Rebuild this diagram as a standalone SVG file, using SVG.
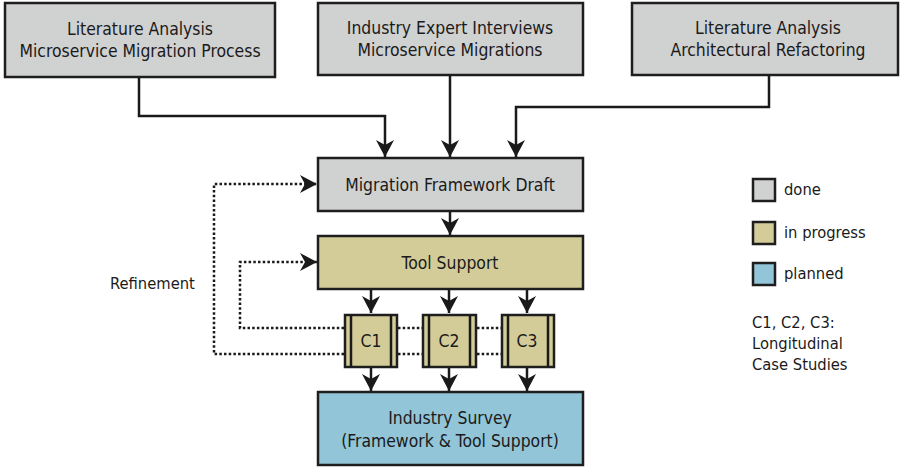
<svg xmlns="http://www.w3.org/2000/svg" width="904" height="468" viewBox="0 0 904 468">
  <defs>
    <style>
      .box { stroke: #1e1e1e; stroke-width: 2.5; }
      .done { fill: #d0d1d1; }
      .prog { fill: #d3cc98; }
      .plan { fill: #92c5d8; }
      .lbl { font-family: "DejaVu Sans Condensed", "DejaVu Sans", sans-serif; font-size: 17.4px; fill: #1a1a1a; text-anchor: middle; }
      .lgd { font-family: "DejaVu Sans Condensed", "DejaVu Sans", sans-serif; font-size: 16.4px; fill: #1a1a1a; }
      .wire { fill: none; stroke: #1a1a1a; stroke-width: 2.5; }
      .dot { fill: none; stroke: #1a1a1a; stroke-width: 2.5; stroke-dasharray: 2.5 2.2; }
    </style>
    <marker id="arrow" markerUnits="userSpaceOnUse" viewBox="-18 -10 19 20" markerWidth="19" markerHeight="20" refX="0" refY="0" orient="auto">
      <path d="M0,0 L-17,-9 L-12,0 L-17,9 Z" fill="#1a1a1a"/>
    </marker>
  </defs>

  <rect width="904" height="468" fill="#ffffff"/>

  <!-- connectors -->
  <g id="connectors">
    <path class="wire" d="M139,77 V116 H385 V157" marker-end="url(#arrow)"/>
    <path class="wire" d="M450,75 V157" marker-end="url(#arrow)"/>
    <path class="wire" d="M769,75 V107 H516 V157" marker-end="url(#arrow)"/>
    <path class="wire" d="M450,211 V235" marker-end="url(#arrow)"/>
    <path class="wire" d="M371,289 V313" marker-end="url(#arrow)"/>
    <path class="wire" d="M449,289 V313" marker-end="url(#arrow)"/>
    <path class="wire" d="M527,289 V313" marker-end="url(#arrow)"/>
    <path class="wire" d="M371,368 V391" marker-end="url(#arrow)"/>
    <path class="wire" d="M449,368 V391" marker-end="url(#arrow)"/>
    <path class="wire" d="M527,368 V391" marker-end="url(#arrow)"/>
    <!-- refinement loops -->
    <path class="dot" d="M344,354 H214 V184 H317" marker-end="url(#arrow)"/>
    <path class="dot" d="M344,328 H240 V262 H317" marker-end="url(#arrow)"/>
    <path class="dot" d="M398,328 H422 M477,328 H501"/>
    <path class="dot" d="M398,354 H422 M477,354 H501"/>
  </g>

  <g id="lit-migration">
    <rect class="box done" x="5" y="3" width="270" height="74"/>
    <text class="lbl" x="140" y="35">Literature Analysis</text>
    <text class="lbl" x="140" y="57">Microservice Migration Process</text>
  </g>
  <g id="expert-interviews">
    <rect class="box done" x="318" y="3" width="265" height="72"/>
    <text class="lbl" x="450" y="34">Industry Expert Interviews</text>
    <text class="lbl" x="450" y="56">Microservice Migrations</text>
  </g>
  <g id="lit-refactoring">
    <rect class="box done" x="632" y="3" width="266" height="72"/>
    <text class="lbl" x="768" y="34">Literature Analysis</text>
    <text class="lbl" x="768" y="56">Architectural Refactoring</text>
  </g>
  <g id="framework-draft">
    <rect class="box done" x="318" y="158" width="265" height="53"/>
    <text class="lbl" x="450" y="191">Migration Framework Draft</text>
  </g>
  <g id="tool-support">
    <rect class="box prog" x="318" y="236" width="265" height="53"/>
    <text class="lbl" x="450" y="269">Tool Support</text>
  </g>
  <g id="c1">
    <rect class="box prog" x="345" y="315" width="52" height="52"/>
    <path class="wire" d="M351,315 V367 M391,315 V367"/>
    <text class="lbl" x="371" y="347">C1</text>
  </g>
  <g id="c2">
    <rect class="box prog" x="423" y="315" width="53" height="52"/>
    <path class="wire" d="M429,315 V367 M470,315 V367"/>
    <text class="lbl" x="449" y="347">C2</text>
  </g>
  <g id="c3">
    <rect class="box prog" x="502" y="315" width="52" height="52"/>
    <path class="wire" d="M508,315 V367 M548,315 V367"/>
    <text class="lbl" x="527" y="347">C3</text>
  </g>
  <g id="industry-survey">
    <rect class="box plan" x="318" y="392" width="265" height="73"/>
    <text class="lbl" x="450" y="424">Industry Survey</text>
    <text class="lbl" x="450" y="447">(Framework &amp; Tool Support)</text>
  </g>

  <text class="lgd" x="110" y="289">Refinement</text>

  <g id="legend">
    <rect class="box done" x="753" y="179" width="22" height="22"/>
    <text class="lgd" x="784" y="195">done</text>
    <rect class="box prog" x="753" y="222" width="22" height="22"/>
    <text class="lgd" x="784" y="238">in progress</text>
    <rect class="box plan" x="753" y="263" width="22" height="22"/>
    <text class="lgd" x="784" y="279">planned</text>
    <text class="lgd" x="752" y="328">C1, C2, C3:</text>
    <text class="lgd" x="752" y="349">Longitudinal</text>
    <text class="lgd" x="752" y="370">Case Studies</text>
  </g>
</svg>
